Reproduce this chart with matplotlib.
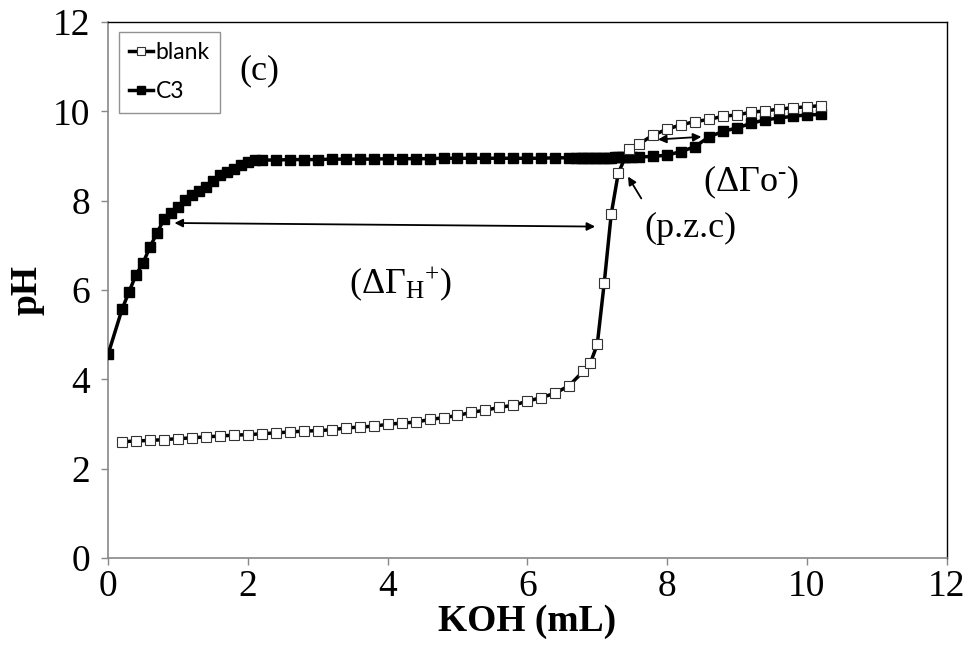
import matplotlib
matplotlib.use("Agg")
import matplotlib.pyplot as plt

# ---------------- data ----------------
blank_x = [0.2, 0.4, 0.6, 0.8, 1.0, 1.2, 1.4, 1.6, 1.8, 2.0,
           2.2, 2.4, 2.6, 2.8, 3.0, 3.2, 3.4, 3.6, 3.8, 4.0,
           4.2, 4.4, 4.6, 4.8, 5.0, 5.2, 5.4, 5.6, 5.8, 6.0,
           6.2, 6.4, 6.6, 6.8, 6.9, 7.0, 7.1, 7.2, 7.3, 7.45,
           7.6, 7.8, 8.0, 8.2, 8.4, 8.6, 8.8, 9.0, 9.2, 9.4,
           9.6, 9.8, 10.0, 10.2]
blank_pH = [2.60, 2.62, 2.63, 2.65, 2.67, 2.69, 2.71, 2.73, 2.75, 2.76,
            2.78, 2.80, 2.82, 2.84, 2.85, 2.87, 2.91, 2.93, 2.95, 2.99,
            3.02, 3.04, 3.10, 3.14, 3.19, 3.26, 3.31, 3.37, 3.42, 3.51,
            3.59, 3.69, 3.86, 4.18, 4.36, 4.78, 6.16, 7.70, 8.61, 9.15,
            9.27, 9.47, 9.60, 9.70, 9.77, 9.82, 9.89, 9.92, 9.98, 10.01,
            10.05, 10.08, 10.10, 10.13]

c3_x = [0.0, 0.2, 0.3, 0.4, 0.5, 0.6, 0.7, 0.8, 0.9, 1.0,
        1.1, 1.2, 1.3, 1.4, 1.5, 1.6, 1.7, 1.8, 1.9, 2.0,
        2.1, 2.2, 2.4, 2.6, 2.8, 3.0, 3.2, 3.4, 3.6, 3.8,
        4.0, 4.2, 4.4, 4.6, 4.8, 5.0, 5.2, 5.4, 5.6, 5.8,
        6.0, 6.2, 6.4, 6.6, 6.7, 6.75, 6.8, 6.85, 6.9, 6.95,
        7.0, 7.05, 7.1, 7.15, 7.2, 7.25, 7.3, 7.35, 7.4, 7.45,
        7.5, 7.6, 7.8, 8.0, 8.2, 8.4, 8.6, 8.8, 9.0, 9.2,
        9.4, 9.6, 9.8, 10.0, 10.2]
c3_pH = [4.56, 5.57, 5.96, 6.34, 6.60, 6.97, 7.27, 7.59, 7.72, 7.85,
         8.01, 8.13, 8.22, 8.31, 8.44, 8.57, 8.65, 8.72, 8.80, 8.86,
         8.90, 8.91, 8.91, 8.92, 8.92, 8.92, 8.93, 8.93, 8.93, 8.93,
         8.94, 8.94, 8.94, 8.94, 8.95, 8.95, 8.95, 8.95, 8.95, 8.95,
         8.95, 8.95, 8.96, 8.96, 8.96, 8.96, 8.96, 8.96, 8.96, 8.96,
         8.96, 8.96, 8.96, 8.96, 8.96, 8.97, 8.97, 8.97, 8.97, 8.97,
         8.97, 8.98, 8.99, 9.02, 9.10, 9.21, 9.43, 9.55, 9.63, 9.73,
         9.81, 9.85, 9.89, 9.92, 9.93]

x_ticks = [0, 2, 4, 6, 8, 10, 12]
y_ticks = [0, 2, 4, 6, 8, 10, 12]

# ---------------- style ----------------
serif = "Liberation Serif"
plt.rcParams["mathtext.fontset"] = "custom"
plt.rcParams["mathtext.rm"] = serif
plt.rcParams["mathtext.it"] = serif
plt.rcParams["mathtext.bf"] = serif + ":bold"

fig = plt.figure(figsize=(9.65, 6.48), dpi=100)
ax = fig.add_axes([0.112, 0.139, 0.869, 0.827])

ax.plot(c3_x, c3_pH, color="black", lw=2.5, marker="s", ms=7.5,
        mfc="black", mec="black", label="C3", zorder=3)
ax.plot(blank_x, blank_pH, color="black", lw=2.5, marker="s", ms=7.5,
        mfc="white", mec="#333333", mew=0.8, label="blank", zorder=4)

ax.set_xlim(0, 12)
ax.set_ylim(0, 12)
ax.set_xticks(x_ticks)
ax.set_yticks(y_ticks)
ax.set_xticklabels([str(t) for t in x_ticks], fontfamily=serif, fontsize=27)
ax.set_yticklabels([str(t) for t in y_ticks], fontfamily=serif, fontsize=27)
ax.tick_params(axis="x", direction="out", length=5, width=1, color="#888888", pad=3)
ax.tick_params(axis="y", direction="out", length=5, width=1, color="#888888", pad=8)

for s in ["left", "bottom"]:
    ax.spines[s].set_color("#888888")
    ax.spines[s].set_linewidth(1.2)
for s in ["top", "right"]:
    ax.spines[s].set_color("black")
    ax.spines[s].set_linewidth(1.0)

ax.set_xlabel("KOH (mL)", fontfamily=serif, fontsize=27, fontweight="bold", labelpad=0)
ax.set_ylabel("pH", fontfamily=serif, fontsize=27, fontweight="bold", labelpad=6)

# legend
handles, labels = ax.get_legend_handles_labels()
order = [1, 0]
leg = ax.legend([handles[i] for i in order], [labels[i] for i in order],
                loc="upper left", bbox_to_anchor=(0.013, 0.982),
                prop={"family": "Lato", "size": 16.5}, frameon=True, fancybox=False,
                edgecolor="#777777", handlelength=1.05, handletextpad=0.1,
                labelspacing=0.8, borderpad=0.45, markerscale=0.75,
                borderaxespad=0)
leg.get_frame().set_linewidth(1.0)

# annotations
ax.text(2.16, 10.9, "(c)", fontfamily=serif, fontsize=26, ha="center", va="center")
ax.text(4.18, 6.15, r"$(\Delta\Gamma_{\mathrm{H}}{}^{+})$", fontsize=26,
        ha="center", va="center")
ax.text(9.2, 8.4, r"$(\Delta\Gamma\mathrm{o}^{\text{-}})$", fontsize=26,
        ha="center", va="center")
ax.text(8.33, 7.38, "(p.z.c)", fontfamily=serif, fontsize=26, ha="center", va="center")

arrow = dict(arrowstyle="<|-|>", color="black", lw=1.3, mutation_scale=12,
             shrinkA=0, shrinkB=0)
ax.annotate("", xy=(0.95, 7.5), xytext=(6.97, 7.42), arrowprops=arrow)
ax.annotate("", xy=(7.87, 9.37), xytext=(8.49, 9.43), arrowprops=arrow)
ax.annotate("", xy=(7.44, 8.54), xytext=(7.63, 8.05),
            arrowprops=dict(arrowstyle="-|>", color="black", lw=1.3,
                            mutation_scale=12, shrinkA=0, shrinkB=0))

fig.savefig("out.png", dpi=100)
